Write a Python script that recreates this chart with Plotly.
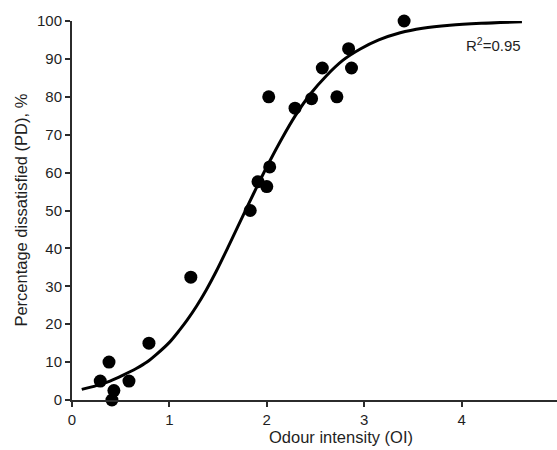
import plotly.graph_objects as go

# Observed data points
odour_intensity = [0.29, 0.38, 0.43, 0.41, 0.585, 0.79, 1.22, 1.83, 1.91, 2.00, 2.03, 2.02,
                   2.29, 2.46, 2.57, 2.72, 2.84, 2.87, 3.41]
pd_values = [5, 10, 2.5, 0, 5, 15, 32.4, 50, 57.6, 56.3, 61.5, 80,
             77, 79.5, 87.6, 80, 92.7, 87.6, 100]

# Fitted curve
curve_x = [0.10, 0.25, 0.39, 0.52, 0.66, 0.77, 0.87, 1.00, 1.10, 1.18, 1.28, 1.38, 1.48, 1.60,
           1.70, 1.80, 1.92, 2.03, 2.16, 2.29, 2.45, 2.61, 2.78, 2.96, 3.15, 3.37, 3.60,
           3.88, 4.20, 4.62]
curve_y = [2.8, 3.8, 5.0, 6.5, 8.3, 10.0, 12.1, 15.2, 18.3, 21.0, 24.8, 29.1, 33.9, 40.2,
           45.6, 51.0, 57.4, 63.0, 69.2, 74.9, 80.8, 85.5, 89.6, 92.6, 95.0, 96.9, 98.1,
           98.9, 99.4, 99.8]

x_ticks = [0, 1, 2, 3, 4, 5]
y_ticks = [0, 10, 20, 30, 40, 50, 60, 70, 80, 90, 100]

FONT = "Liberation Sans, Arial, sans-serif"
TXT = "#1f1f1f"
AX = "#2b2b2b"

fig = go.Figure()
fig.add_trace(go.Scatter(x=curve_x, y=curve_y, mode="lines",
                         line=dict(color="black", width=3, shape="spline", smoothing=0.8),
                         hoverinfo="skip", showlegend=False))
fig.add_trace(go.Scatter(x=odour_intensity, y=pd_values, mode="markers",
                         marker=dict(color="black", size=13),
                         showlegend=False, cliponaxis=False))

fig.update_layout(
    width=557, height=450,
    margin=dict(l=72, r=0, t=21, b=50),
    plot_bgcolor="white", paper_bgcolor="white",
    font=dict(family=FONT, size=15, color=TXT),
    xaxis=dict(range=[0, 4.98], tickvals=x_ticks, ticktext=[str(v) for v in x_ticks],
               showgrid=False, zeroline=False, showline=True, linecolor=AX, linewidth=2,
               ticks="outside", ticklen=5, tickwidth=1.5, tickcolor=AX,
               tickfont=dict(size=15, color=TXT)),
    yaxis=dict(range=[0, 100], tickvals=y_ticks,
               showgrid=False, zeroline=False, showline=True, linecolor=AX, linewidth=2,
               ticks="outside", ticklen=5, tickwidth=1.5, tickcolor=AX,
               tickfont=dict(size=15, color=TXT)),
    annotations=[
        dict(text="R<sup>2</sup>=0.95", x=4.63, y=93.9, xref="x", yref="y",
             xanchor="right", yanchor="middle", showarrow=False,
             font=dict(size=15, color=TXT)),
        dict(text="Odour intensity (OI)", x=0.555, y=-0.098, xref="paper", yref="paper",
             xanchor="center", yanchor="middle", showarrow=False,
             font=dict(size=16.5, color=TXT)),
        dict(text="Percentage dissatisfied (PD), %", x=-0.107, y=0.5, xref="paper", yref="paper",
             xanchor="center", yanchor="middle", textangle=-90, showarrow=False,
             font=dict(size=16.5, color=TXT)),
    ],
)

fig.write_html("out.html", config={"displayModeBar": False},
               post_script="document.body.style.margin='0';document.body.style.overflow='hidden';")
